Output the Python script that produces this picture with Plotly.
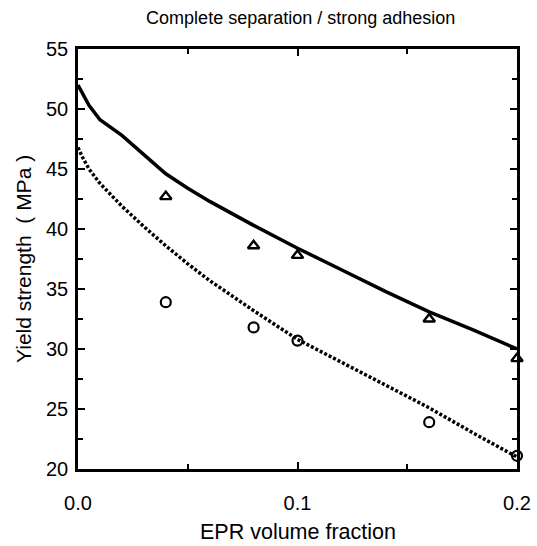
import plotly.graph_objects as go

# Measured data (triangles / circles)
frac_pts = [0.04, 0.08, 0.10, 0.16, 0.20]
strong_pts = [42.7, 38.6, 37.8, 32.5, 29.2]
separation_pts = [33.9, 31.8, 30.7, 23.9, 21.1]

# Model curves
frac_strong = [0.0, 0.005, 0.01, 0.02, 0.03, 0.04, 0.05, 0.06, 0.08, 0.10, 0.12, 0.14, 0.16, 0.18, 0.20]
strong_curve = [52.0, 50.3, 49.1, 47.8, 46.2, 44.6, 43.4, 42.3, 40.3, 38.4, 36.6, 34.8, 33.1, 31.6, 30.0]

frac_sep = [0.0, 0.002, 0.005, 0.01, 0.02, 0.03, 0.04, 0.05, 0.06, 0.08, 0.10, 0.12, 0.14, 0.16, 0.18, 0.20]
sep_curve = [46.8, 46.0, 45.0, 43.8, 41.9, 40.2, 38.6, 37.1, 35.7, 33.2, 30.8, 28.9, 27.0, 25.1, 23.0, 21.0]

TITLE = "Complete separation / strong adhesion"
X_TITLE = "EPR volume fraction"
Y_TITLE = "Yield strength  ( MPa )"

FONT = "Liberation Sans, Arial, sans-serif"

fig = go.Figure()
fig.add_trace(go.Scatter(x=frac_strong, y=strong_curve, mode="lines",
                         line=dict(color="black", width=3.5), cliponaxis=False,
                         showlegend=False))
fig.add_trace(go.Scatter(x=frac_sep, y=sep_curve, mode="lines",
                         line=dict(color="black", width=3.5, dash="3px,2px"),
                         cliponaxis=False, showlegend=False))
fig.add_trace(go.Scatter(x=frac_pts, y=strong_pts, mode="markers",
                         marker=dict(symbol="triangle-up-open", size=10, color="black",
                                     line=dict(width=2.4, color="black")),
                         cliponaxis=False, showlegend=False))
fig.add_trace(go.Scatter(x=frac_pts, y=separation_pts, mode="markers",
                         marker=dict(symbol="circle-open", size=10, color="black",
                                     line=dict(width=2.2, color="black")),
                         cliponaxis=False, showlegend=False))

fig.update_layout(
    width=537, height=546,
    margin=dict(l=78, r=20, t=49, b=77),
    paper_bgcolor="white", plot_bgcolor="white",
    font=dict(family=FONT, color="black", size=20),
    title=dict(text=TITLE,
               x=0.56, xanchor="center", y=1 - 18 / 546, yanchor="middle",
               yref="container", automargin=False,
               font=dict(size=18, family=FONT, color="black")),
    annotations=[
        dict(text=X_TITLE, xref="paper", yref="paper", x=0.5, y=0,
             xanchor="center", yanchor="middle", yshift=-63, showarrow=False,
             font=dict(size=21.5, family=FONT, color="black")),
        dict(text=Y_TITLE, xref="paper", yref="paper", x=0, y=0.5,
             xanchor="center", yanchor="middle", xshift=-55, textangle=-90,
             showarrow=False, font=dict(size=21, family=FONT, color="black")),
    ],
)
fig.update_xaxes(
    range=[0, 0.2], dtick=0.1, tick0=0, tickformat=".1f", automargin=False,
    showline=True, linecolor="black", linewidth=2.5, mirror="allticks",
    ticks="inside", ticklen=7, tickwidth=2, tickcolor="black",
    minor=dict(ticks="inside", dtick=0.05, ticklen=5, tickwidth=1.5, tickcolor="black"),
    showgrid=False, zeroline=False, ticklabelstandoff=14,
    tickfont=dict(size=20),
)
fig.update_yaxes(
    range=[20, 55], dtick=5, tick0=20, automargin=False,
    showline=True, linecolor="black", linewidth=2.5, mirror="allticks",
    ticks="inside", ticklen=7, tickwidth=2, tickcolor="black",
    minor=dict(ticks="inside", dtick=2.5, ticklen=5, tickwidth=1.5, tickcolor="black"),
    showgrid=False, zeroline=False, ticklabelstandoff=3,
    tickfont=dict(size=20),
)

fig.write_html("out.html")
